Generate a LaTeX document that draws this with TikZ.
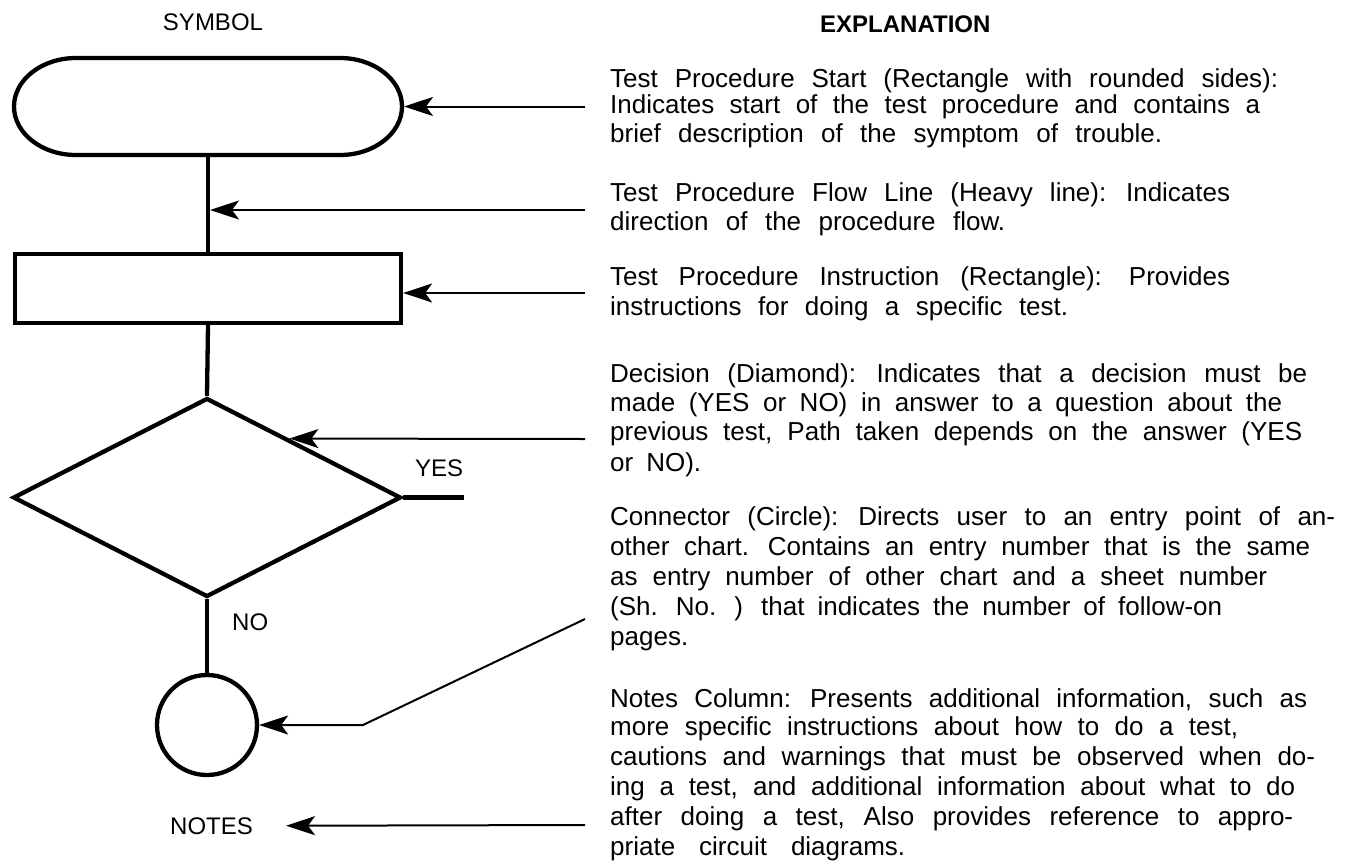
\documentclass[tikz,border=0pt]{standalone}
\usepackage{fontspec}
\setmainfont{Liberation Sans}
\usetikzlibrary{arrows.meta,shapes.geometric,calc}

% one explanation line, spread to a given width (in pt)
\newcommand\explline[2]{\makebox[#1pt][s]{\spaceskip=17pt plus 12pt minus 6pt #2}}

\tikzset{
  heavy/.style={line width=4.3pt},
  ptr/.style={line width=2pt,-{Stealth[length=29pt,width=19pt,inset=7pt]}},
  lbl/.style={inner sep=0pt,font=\fontsize{24}{28}\selectfont},
  expl/.style={inner sep=0pt,anchor=base west,font=\fontsize{26}{30}\selectfont},
}

\begin{document}
\begin{tikzpicture}[x=1pt,y=-1pt]
\useasboundingbox (0,0) rectangle (1353,863);
\fill[white] (0,0) rectangle (1353,863);

% column heads
\node[lbl,anchor=base] (symhead) at (213,30) {SYMBOL};
\node[lbl,anchor=base west,font=\fontsize{24}{28}\selectfont\bfseries] (exphead) at (820,32) {EXPLANATION};

% symbols
\node[inner sep=0pt,outer sep=0pt,minimum width=388pt,minimum height=97pt] (start) at (208,106.5) {};
\draw[heavy] ([xshift=62pt]start.north west) -- ([xshift=-62pt]start.north east)
  arc[start angle=90,end angle=-90,x radius=62pt,y radius=48.5pt]
  -- ([xshift=62pt]start.south west)
  arc[start angle=270,end angle=90,x radius=62pt,y radius=48.5pt] -- cycle;

\node[draw,heavy,inner sep=0pt,minimum width=386pt,minimum height=69pt] (box) at (208,288.5) {};
\node[draw,heavy,diamond,inner sep=0pt,minimum width=388pt,minimum height=199pt] (dec) at (207,497.5) {};
\node[draw,heavy,circle,inner sep=0pt,minimum size=100pt] (conn) at (207,725) {};

\coordinate (yesend) at (464,497.5);
\node[lbl,anchor=base west] (yes) at (415,476) {YES};
\node[lbl,anchor=base west] (no) at (232,630) {NO};
\node[lbl,anchor=base west] (notes) at (170,834) {NOTES};

% flow lines
\draw[heavy] (start.south) -- (box.north);
\draw[heavy] (box.south) -- (dec.north);
\draw[heavy] (dec.east) -- (yesend);
\draw[heavy] (dec.south) -- (conn.north);

% pointers from the explanations
\coordinate (t1) at (585,106.5);
\coordinate (t2) at (585,210);
\coordinate (fl) at (210,210);
\coordinate (t3) at (585,293);
\coordinate (t4) at (585,439);
\coordinate (t5) at (585,619);
\coordinate (b5) at (363,725);
\coordinate (t6) at (585,825);

\draw[ptr] (t1) -- ([xshift=2pt]start.east);
\draw[ptr] (t2) -- (fl);
\draw[ptr] (t3) -- (t3 -| box.east);
\draw[ptr] (t4) -- ($(dec.north)!0.42!(dec.east)$);
\draw[ptr] (t5) -- (b5) -- (conn.east);
\draw[ptr] (t6) -- ([xshift=33pt]notes.east);

% explanation text
\node[expl] (e1a) at (610,87)  {\explline{668}{Test Procedure Start (Rectangle with rounded sides):}};
\node[expl] (e1b) at (610,113) {\explline{650}{Indicates start of the test procedure and contains a}};
\node[expl] (e1c) at (610,142) {\explline{552}{brief description of the symptom of trouble.}};

\node[expl] (e2a) at (610,201) {\explline{620}{Test Procedure Flow Line (Heavy line): Indicates}};
\node[expl] (e2b) at (610,230) {\explline{395}{direction of the procedure flow.}};

\node[expl] (e3a) at (610,285) {\explline{620}{Test Procedure Instruction (Rectangle): Provides}};
\node[expl] (e3b) at (610,315) {\explline{458}{instructions for doing a specific test.}};

\node[expl] (e4a) at (610,382) {\explline{697}{Decision (Diamond):  Indicates that a decision must be}};
\node[expl] (e4b) at (610,411) {\explline{672}{made (YES or NO) in answer to a question about the}};
\node[expl] (e4c) at (610,440) {\explline{692}{previous test, Path taken depends on the answer (YES}};
\node[expl] (e4d) at (610,471) {\explline{91}{or NO).}};

\node[expl] (e5a) at (610,525) {\explline{725}{Connector (Circle):  Directs user to an entry point of an-}};
\node[expl] (e5b) at (610,555) {\explline{700}{other chart. Contains an entry number that is the same}};
\node[expl] (e5c) at (610,585) {\explline{657}{as entry number of other chart and a sheet number}};
\node[expl] (e5d) at (610,615) {\explline{612}{(Sh. No. ) that indicates the number of follow-on}};
\node[expl] (e5e) at (610,645) {pages.};

\node[expl] (e6a) at (610,707) {\explline{697}{Notes Column: Presents additional information, such as}};
\node[expl] (e6b) at (610,735) {\explline{628}{more specific instructions about how to do a test,}};
\node[expl] (e6c) at (610,765) {\explline{705}{cautions and warnings that must be observed when do-}};
\node[expl] (e6d) at (610,795) {\explline{685}{ing a test, and additional information about what to do}};
\node[expl] (e6e) at (610,825) {\explline{683}{after doing a test, Also provides reference to appro-}};
\node[expl] (e6f) at (610,855) {\explline{295}{priate circuit diagrams.}};
\end{tikzpicture}
\end{document}
